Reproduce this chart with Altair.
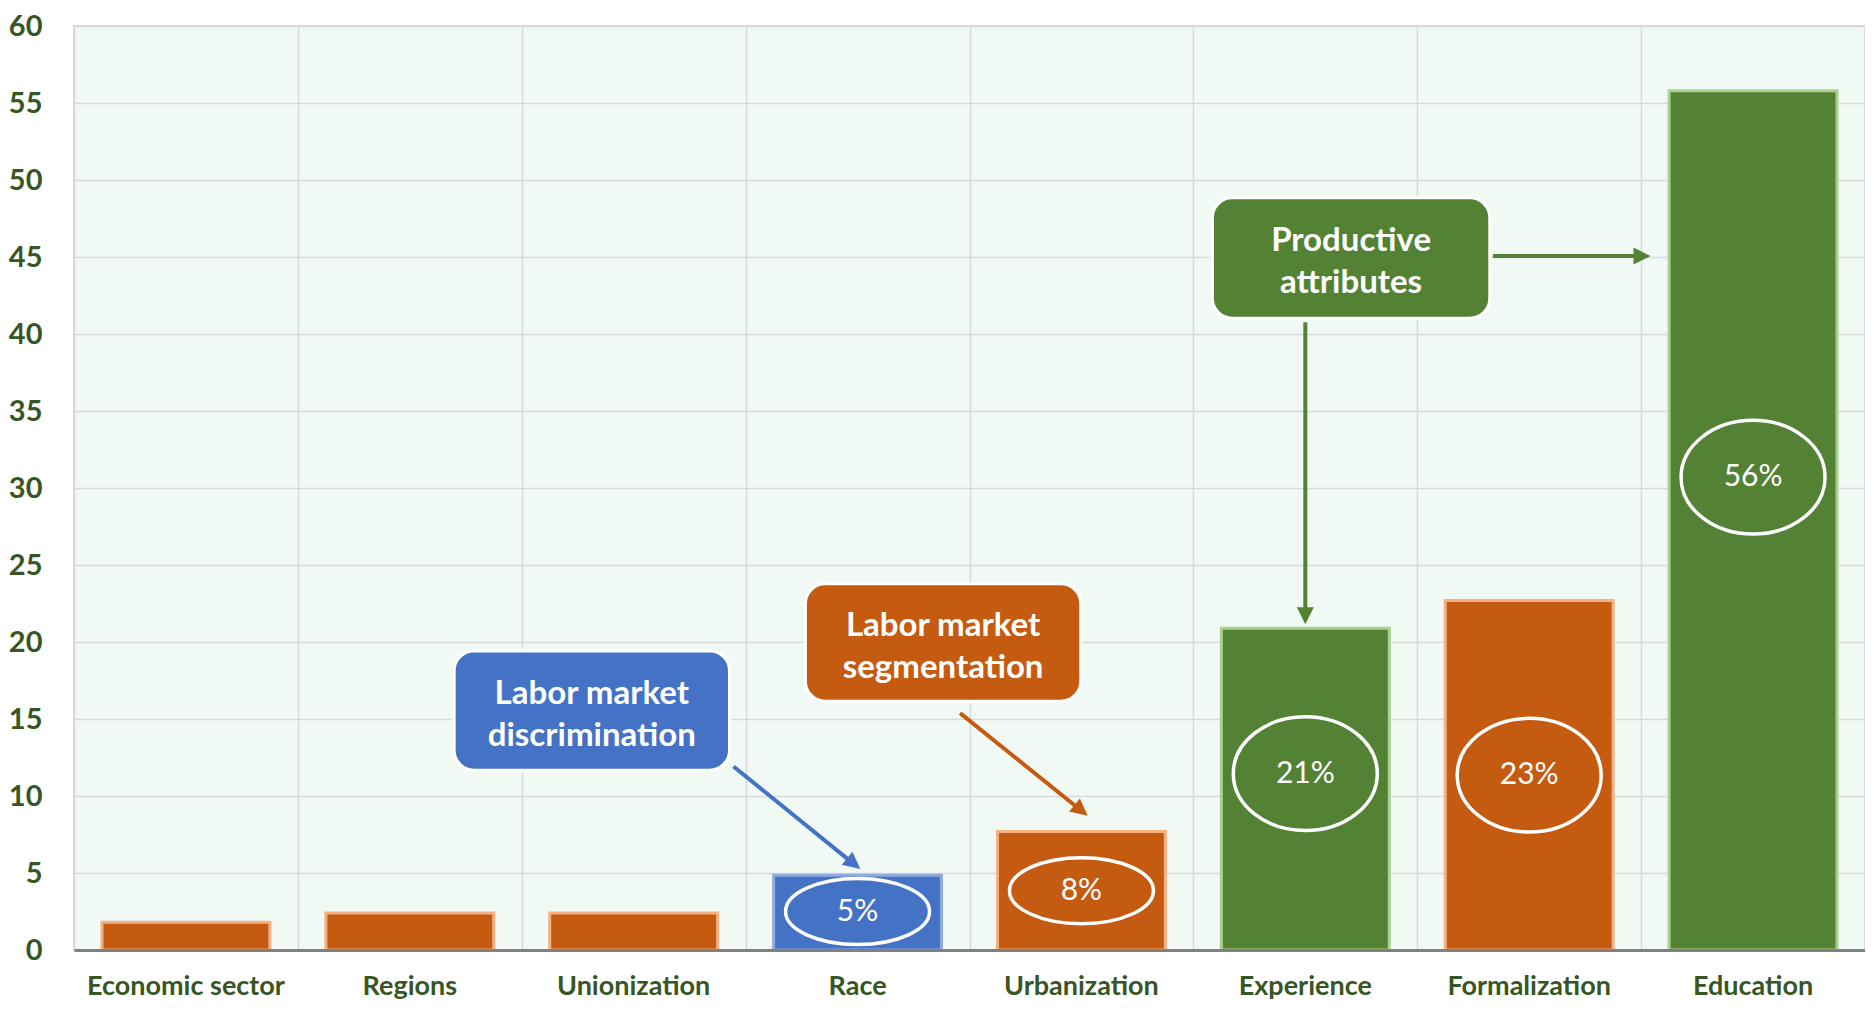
import altair as alt
import pandas as pd

# ---------------- data ----------------
categories = ["Economic sector", "Regions", "Unionization", "Race",
              "Urbanization", "Experience", "Formalization", "Education"]
values = [1.8, 2.4, 2.4, 4.85, 7.7, 20.9, 22.7, 55.8]
groups = ["seg", "seg", "seg", "disc", "seg", "prod", "seg", "prod"]

pct_categories = ["Race", "Urbanization", "Experience", "Formalization", "Education"]
pct_labels = ["5%", "8%", "21%", "23%", "56%"]
pct_label_y = [2.5, 3.85, 11.45, 11.35, 30.7]
pct_ellipse_kind = ["flat", "flat", "tall", "tall", "tall"]

box_texts = ["Labor market\ndiscrimination", "Labor market\nsegmentation", "Productive\nattributes"]
box_groups = ["disc", "seg", "prod"]
box_x0 = [1.698, 3.267, 5.085]
box_x1 = [2.928, 4.497, 6.324]
box_y0 = [11.67, 16.15, 41.03]
box_y1 = [19.42, 23.78, 48.85]

arrow_groups = ["disc", "seg", "prod", "prod"]
arrow_x0 = [2.946, 3.958, 6.338, 5.50]
arrow_y0 = [11.92, 15.38, 45.06, 40.77]
arrow_x1 = [3.477, 4.493, 6.997, 5.50]
arrow_y1 = [5.66, 9.12, 45.06, 21.79]
tip_x = [3.512, 4.528, 7.042, 5.50]
tip_y = [5.26, 8.72, 45.06, 21.15]
tip_angle = [129.3, 129.1, 90, 180]

y_ticks = list(range(0, 61, 5))
grid_positions = list(range(0, 9))

# ---------------- styles ----------------
GROUP_DOMAIN = ["seg", "disc", "prod"]
FILL_RANGE = ["#C55A11", "#4472C4", "#548235"]
STROKE_RANGE = ["#F4B183", "#8FAADC", "#A9D18E"]
LABEL_GREEN = "#375623"
FONT = "Lato"

bars_df = pd.DataFrame({"cat": categories, "val": values, "grp": groups})
pct_df = pd.DataFrame({"cat": pct_categories, "label": pct_labels,
                       "ly": pct_label_y, "kind": pct_ellipse_kind})
box_df = pd.DataFrame({"text": box_texts, "grp": box_groups,
                       "x0": box_x0, "x1": box_x1, "y0": box_y0, "y1": box_y1})
box_df["xc"] = (box_df["x0"] + box_df["x1"]) / 2
box_df["yc"] = (box_df["y0"] + box_df["y1"]) / 2
arrow_df = pd.DataFrame({"grp": arrow_groups, "x0": arrow_x0, "y0": arrow_y0,
                         "x1": arrow_x1, "y1": arrow_y1, "tx": tip_x, "ty": tip_y,
                         "ang": tip_angle})

yscale = alt.Scale(domain=[0, 60], nice=False, zero=True)
xband = alt.Scale(domain=categories, paddingInner=0.25, paddingOuter=0.125)
xq = alt.Scale(domain=[0, 8], nice=False, zero=False)
fill_scale = alt.Scale(domain=GROUP_DOMAIN, range=FILL_RANGE)
stroke_scale = alt.Scale(domain=GROUP_DOMAIN, range=STROKE_RANGE)

# ---------------- base (band x) ----------------
bars = alt.Chart(bars_df).mark_bar(strokeWidth=3).encode(
    x=alt.X("cat:N", scale=xband, sort=categories, title=None,
            axis=alt.Axis(title=None, labelAngle=0, labelFont=FONT, labelFontWeight="bold",
                          labelFontSize=27, labelColor=LABEL_GREEN, labelPadding=23,
                          labelLimit=0, ticks=False, grid=False, domainColor="#808080",
                          domainWidth=3, zindex=1)),
    y=alt.Y("val:Q", scale=yscale, title=None,
            axis=alt.Axis(title=None, values=y_ticks, labelFont=FONT, labelFontWeight="bold",
                          labelFontSize=29, labelColor=LABEL_GREEN, labelPadding=32,
                          ticks=False, domain=False, grid=True, gridColor="#D9D9D9",
                          gridWidth=1.5)),
    fill=alt.Fill("grp:N", scale=fill_scale, legend=None),
    stroke=alt.Stroke("grp:N", scale=stroke_scale, legend=None),
)

ELLIPSE_FLAT = "M -1 0 A 1 0.458 0 1 1 1 0 A 1 0.458 0 1 1 -1 0 Z"
ELLIPSE_TALL = "M -1 0 A 1 0.79 0 1 1 1 0 A 1 0.79 0 1 1 -1 0 Z"

ellipses = alt.Chart(pct_df).mark_point(filled=False, stroke="white", strokeWidth=3.5,
                                        size=144 * 144, opacity=1).encode(
    x=alt.X("cat:N", scale=xband, sort=categories, title=None),
    y=alt.Y("ly:Q", scale=yscale, title=None),
    shape=alt.Shape("kind:N", scale=alt.Scale(domain=["flat", "tall"],
                                              range=[ELLIPSE_FLAT, ELLIPSE_TALL]),
                    legend=None),
)

pct_text = alt.Chart(pct_df).mark_text(font=FONT, fontSize=30, color="white",
                                       baseline="middle", align="center").encode(
    x=alt.X("cat:N", scale=xband, sort=categories, title=None),
    y=alt.Y("ly:Q", scale=yscale, title=None),
    text="label:N",
)

base = alt.layer(bars, ellipses, pct_text)

# ---------------- annotations (index x) ----------------
gridlayer = alt.Chart(pd.DataFrame({"g": grid_positions})).mark_rule(opacity=0).encode(
    x=alt.X("g:Q", scale=xq, title=None,
            axis=alt.Axis(orient="top", values=grid_positions, labels=False, ticks=False,
                          domain=False, grid=True, gridColor="#D9D9D9", gridWidth=1.5,
                          title=None)),
)

boxes = alt.Chart(box_df).mark_rect(cornerRadius=20, stroke="white", strokeWidth=3).encode(
    x=alt.X("x0:Q", scale=xq, title=None), x2="x1:Q",
    y=alt.Y("y0:Q", scale=yscale, title=None), y2="y1:Q",
    fill=alt.Fill("grp:N", scale=fill_scale, legend=None),
)

box_text = alt.Chart(box_df).mark_text(font=FONT, fontWeight="bold", fontSize=33,
                                       color="white", lineBreak="\n", lineHeight=42,
                                       baseline="middle", align="center", dy=-17).encode(
    x=alt.X("xc:Q", scale=xq, title=None),
    y=alt.Y("yc:Q", scale=yscale, title=None),
    text="text:N",
)

shafts = alt.Chart(arrow_df).mark_rule(strokeWidth=4, strokeCap="butt").encode(
    x=alt.X("x0:Q", scale=xq, title=None), x2="x1:Q",
    y=alt.Y("y0:Q", scale=yscale, title=None), y2="y1:Q",
    color=alt.Color("grp:N", scale=fill_scale, legend=None),
)

ARROW_HEAD = "M 0 0 L 1 2 L -1 2 Z"
heads = alt.Chart(arrow_df).mark_point(shape=ARROW_HEAD, filled=True, size=289,
                                       opacity=1, strokeWidth=0).encode(
    x=alt.X("tx:Q", scale=xq, title=None),
    y=alt.Y("ty:Q", scale=yscale, title=None),
    angle=alt.Angle("ang:Q", scale=None),
    color=alt.Color("grp:N", scale=fill_scale, legend=None),
)

annot = alt.layer(gridlayer, boxes, box_text, shafts, heads)

chart = alt.layer(base, annot).resolve_scale(x="independent").properties(
    width=1791, height=924,
    autosize=alt.AutoSizeParams(type="none"),
    padding={"left": 66, "top": 18, "right": 0, "bottom": 52},
    background="white",
).configure_view(fill="#F1F9F5", stroke="#D9D9D9", strokeWidth=2)

chart.save("out.html", embed_options={"renderer": "svg", "actions": False})
